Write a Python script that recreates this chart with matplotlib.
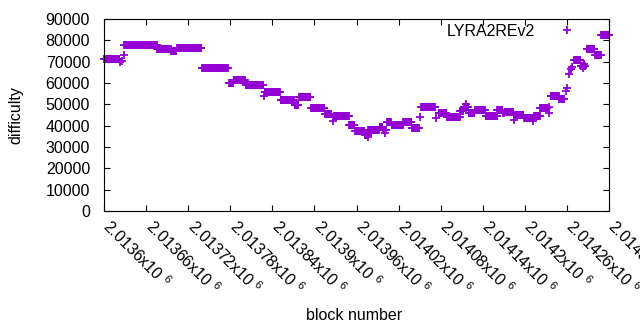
import matplotlib
matplotlib.use('Agg')
import matplotlib.pyplot as plt
import matplotlib.transforms as mtransforms
import numpy as np

plt.rcParams['font.family'] = ['Liberation Sans', 'DejaVu Sans']
plt.rcParams['mathtext.fontset'] = 'custom'
plt.rcParams['mathtext.rm'] = 'Liberation Sans'
plt.rcParams['mathtext.default'] = 'regular'

# runs of blocks with the same difficulty: [start, end) block, difficulty
seg_start = [2013600, 2013629, 2013676, 2013696, 2013704, 2013740, 2013778, 2013785,
             2013802, 2013829, 2013852, 2013872, 2013878, 2013895, 2013915, 2013928,
             2013950, 2013958, 2013972, 2013977, 2013993, 2013998, 2014004, 2014010,
             2014027, 2014039, 2014052, 2014077, 2014089, 2014108, 2014113, 2014120,
             2014129, 2014144, 2014161, 2014169, 2014172, 2014185, 2014199, 2014213,
             2014222, 2014237, 2014249, 2014270, 2014280, 2014288, 2014300, 2014309]
seg_end = [2013623, 2013676, 2013696, 2013704, 2013740, 2013778, 2013785, 2013802,
           2013828, 2013852, 2013872, 2013878, 2013895, 2013915, 2013924, 2013950,
           2013958, 2013972, 2013977, 2013993, 2013998, 2014003, 2014010, 2014027,
           2014039, 2014050, 2014073, 2014089, 2014108, 2014113, 2014120, 2014129,
           2014144, 2014161, 2014169, 2014172, 2014184, 2014199, 2014212, 2014222,
           2014233, 2014249, 2014257, 2014280, 2014287, 2014300, 2014309, 2014321]
seg_diff = [71100, 77700, 75900, 75200, 76300, 66900, 60000, 61300,
            58900, 55600, 52000, 49700, 53300, 48100, 45300, 44400,
            40300, 37400, 35600, 37800, 39200, 38000, 41900, 40200,
            41600, 39100, 48600, 45800, 43900, 47000, 48700, 45800,
            47200, 44500, 47500, 45800, 46300, 45000, 43400, 44700,
            48300, 53800, 52400, 70600, 68200, 75900, 73100, 82300]

# single blocks off the runs
pt_block = [2013623, 2013625, 2013628, 2013828, 2013926, 2013976, 2014000, 2014051,
            2014074, 2014116, 2014184, 2014212, 2014234, 2014235, 2014258, 2014260,
            2014263, 2014266, 2014267, 2014283, 2014285]
pt_diff = [69700, 70500, 73100, 53900, 42300, 34800, 36700, 43900,
           43400, 50000, 42700, 42300, 48900, 46100, 56400, 57500,
           64200, 66400, 67400, 66900, 68900]

xtick_vals = [2013600, 2013660, 2013720, 2013780, 2013840, 2013900, 2013960,
              2014020, 2014080, 2014140, 2014200, 2014260, 2014320]
xtick_text = ['2.0136', '2.01366', '2.01372', '2.01378', '2.01384', '2.0139', '2.01396',
              '2.01402', '2.01408', '2.01414', '2.0142', '2.01426', '2.01432']
ytick_vals = [0, 10000, 20000, 30000, 40000, 50000, 60000, 70000, 80000, 90000]

blocks = []
diffs = []
for s, e, d in zip(seg_start, seg_end, seg_diff):
    b = np.arange(s, e)
    blocks.extend(b)
    diffs.extend([d] * len(b))
blocks.extend(pt_block)
diffs.extend(pt_diff)

fig = plt.figure(figsize=(6.4, 3.3), dpi=100)
ax = fig.add_axes([104/640, 1 - 211/330, 505/640, 192/330])

color = '#9400d3'
ax.plot(blocks, diffs, linestyle='none', marker='+', markersize=5.3, mew=1.3,
        color=color, clip_on=False, label='LYRA2REv2')

ax.set_xlim(2013600, 2014320)
ax.set_ylim(0, 90000)
ax.set_xticks(xtick_vals)
ax.set_xticklabels([])
# rotated tick labels, placed by hand like gnuplot does
trans = ax.get_xaxis_transform() + mtransforms.ScaledTranslation(9/100, -5/100, fig.dpi_scale_trans)
for xv, t in zip(xtick_vals, xtick_text):
    ax.text(xv, 0, t + 'x10 $^{6}$', transform=trans, rotation=-45,
            rotation_mode='anchor', ha='left', va='top', fontsize=11.5, clip_on=False)
ax.set_yticks(ytick_vals)
ax.set_yticklabels([str(v) for v in ytick_vals])

ax.tick_params(axis='both', direction='in', length=4, width=0.8, labelsize=11.5,
               top=True, right=True)
ax.tick_params(axis='y', pad=10)
for sp in ax.spines.values():
    sp.set_linewidth(0.8)

fig.text(16/640, 1 - 115/330, 'difficulty', rotation=90, ha='center', va='center',
         fontsize=11.5)
fig.text(354/640, 1 - 315/330, 'block number', ha='center', va='center', fontsize=11.5)

ax.legend(loc='upper right', bbox_to_anchor=(0.933, 0.974), markerfirst=False,
          frameon=False, handlelength=1.0, handletextpad=1.5, borderpad=0,
          borderaxespad=0, fontsize=11.5)

fig.savefig('out.png', dpi=100)
